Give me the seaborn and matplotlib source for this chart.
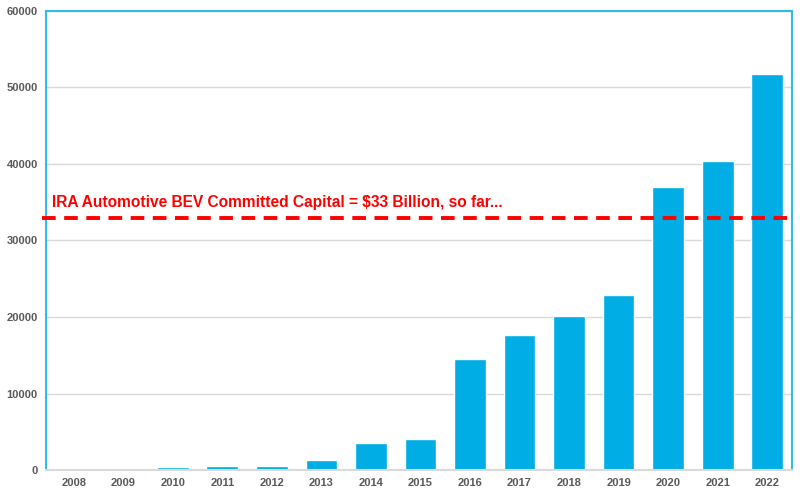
import matplotlib
matplotlib.use("Agg")
import matplotlib.pyplot as plt
import seaborn as sns
import pandas as pd

# Data
years = ["2008", "2009", "2010", "2011", "2012", "2013", "2014", "2015",
         "2016", "2017", "2018", "2019", "2020", "2021", "2022"]
values = [0, 250, 380, 520, 520, 1300, 3500, 4050,
          14500, 17600, 20100, 22900, 37000, 40400, 51800]
ira_level = 33000
ira_label = "IRA Automotive BEV Committed Capital = $33 Billion, so far..."

df = pd.DataFrame({"Year": years, "Value": values})

sns.set_theme(style="white")
plt.rcParams["font.family"] = ["Liberation Sans", "DejaVu Sans"]

fig = plt.figure(figsize=(8, 4.92), dpi=100)
ax = fig.add_axes([0.0575, 0.0447, 0.9325, 0.933])

sns.barplot(data=df, x="Year", y="Value", color="#00ADE5", saturation=1,
            width=0.64, ax=ax, zorder=2)

ax.set_ylim(0, 60000)
ax.set_xlim(-0.56, 14.5)
ax.set_yticks(range(0, 60001, 10000))
ax.yaxis.grid(True, color="#D9D9D9", linewidth=1, zorder=0)
ax.set_axisbelow(True)
ax.set_xlabel("")
ax.set_ylabel("")
ax.tick_params(axis="both", length=0, labelsize=8, labelcolor="#595959", pad=6)
for lbl in ax.get_xticklabels() + ax.get_yticklabels():
    lbl.set_fontweight("bold")

for side in ["top", "left", "right"]:
    ax.spines[side].set_color("#33B9EC")
    ax.spines[side].set_linewidth(1.5)
ax.spines["bottom"].set_color("#D9D9D9")
ax.spines["bottom"].set_linewidth(1.5)

ax.axhline(ira_level, color="#FF0000", linewidth=2.8, linestyle=(0, (3.5, 2.2)),
           zorder=3, xmin=-0.005, clip_on=False)
ax.text(0.008, ira_level + 1000, ira_label, color="#FF0000", fontsize=11.2,
        fontweight="bold", ha="left", va="bottom", transform=ax.get_yaxis_transform())

fig.savefig("out.png", dpi=100)
